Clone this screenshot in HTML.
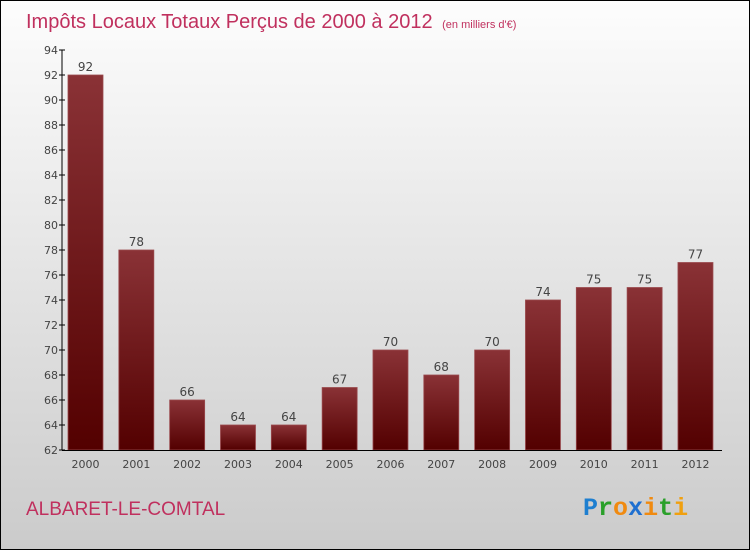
<!DOCTYPE html>
<html><head><meta charset="utf-8"><style>
body{margin:0}
#wrap{width:750px;height:550px;position:relative;box-sizing:border-box;border:1px solid #000;background:linear-gradient(#fdfdfd,#cbcbcb);font-family:"DejaVu Sans","Liberation Sans",sans-serif;overflow:hidden}
</style></head><body>
<div id="wrap">
<svg id="svg" width="748" height="548">
<defs><linearGradient id="bg" x1="0" y1="0" x2="0" y2="1"><stop offset="0" stop-color="#8a3236"/><stop offset="1" stop-color="#530000"/></linearGradient></defs>
<text x="25" y="27" font-size="20" fill="#c0305e" font-family="Liberation Sans, sans-serif">Impôts Locaux Totaux Perçus de 2000 à 2012 <tspan font-size="11" dx="4">(en milliers d'€)</tspan></text>
<g id="plot"></g>
<text x="25" y="514" font-size="19" fill="#c0305e" font-family="Liberation Sans, sans-serif">ALBARET-LE-COMTAL</text>
<text x="582" y="514" font-size="25" font-weight="bold" font-family="Liberation Mono, monospace"><tspan fill="#1e7fd0">P</tspan><tspan fill="#2aa02a">r</tspan><tspan fill="#f08a10">o</tspan><tspan fill="#1e6fd0">x</tspan><tspan fill="#f08a10">i</tspan><tspan fill="#2aa02a">t</tspan><tspan fill="#f0a010">i</tspan></text>
</svg></div>
<script>
const years=["2000","2001","2002","2003","2004","2005","2006","2007","2008","2009","2010","2011","2012"];
const values=[92,78,66,64,64,67,70,68,70,74,75,75,77];
const yTicks=[62,64,66,68,70,72,74,76,78,80,82,84,86,88,90,92,94];
const NS="http://www.w3.org/2000/svg";
const g=document.getElementById('plot');
const y0=449,yMin=62,yMax=94,yTop=49;
const y=v=>y0-(v-yMin)/(yMax-yMin)*(y0-yTop);
const step=50.83,x=i=>67+i*step,bw=35;
function mk(t,a){const e=document.createElementNS(NS,t);for(const k in a)e.setAttribute(k,a[k]);g.appendChild(e);return e;}
yTicks.forEach(v=>{
 const l=mk('line',{x1:58,x2:64,y1:y(v),y2:y(v),stroke:'#000'});
 
 
 const t=mk('text',{x:57,y:y(v)+4,'font-size':11,fill:'#444','text-anchor':'end'});t.textContent=v;
 
 
});
values.forEach((v,i)=>{
 const r=mk('rect',{x:x(i),y:y(v),width:bw,height:y0-y(v),fill:'url(#bg)',stroke:'#9a4a4e','stroke-width':0.8});
 
 
 const t=mk('text',{x:x(i)+bw/2,y:y(v)-4,'font-size':12,fill:'#444','text-anchor':'middle'});t.textContent=v;
 
 
 const yl=mk('text',{x:x(i)+bw/2,y:467,'font-size':11,fill:'#444','text-anchor':'middle'});yl.textContent=years[i];
 
 
});
const ya=mk('line',{x1:61,x2:61,y1:y(yMax),y2:y0,stroke:'#000'});


const xa=mk('line',{x1:61,x2:721,y1:y0+0.5,y2:y0+0.5,stroke:'#000'});


</script>
</body></html>
